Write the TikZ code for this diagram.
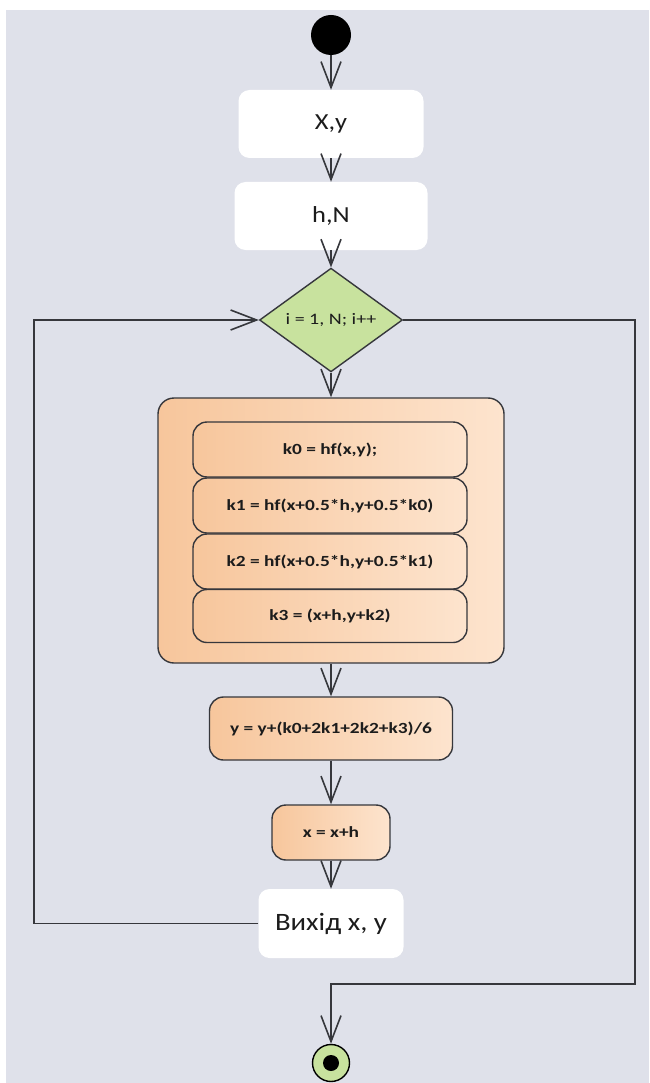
\documentclass[tikz,border=0pt]{standalone}
\usepackage{fontspec}
\setmainfont{Carlito}
\newfontfamily\datafont[FakeStretch=1.15]{Carlito}
\newfontfamily\stepfont[FakeStretch=1.25]{Carlito}
\usetikzlibrary{shapes.geometric,arrows.meta}
\definecolor{canvas}{HTML}{DFE1EA}
\definecolor{edge}{HTML}{36373C}
\definecolor{peachL}{HTML}{F7C69C}
\definecolor{peachR}{HTML}{FDE4CE}
\definecolor{guard}{HTML}{C8E29E}
\definecolor{ink}{HTML}{1C1C1C}
\begin{document}
\begin{tikzpicture}[x=1pt,y=-1pt,
  line/.style={draw=edge, line width=1.6pt},
  flow/.style={line, -{Straight Barb[length=26pt,width=20pt]}},
  databox/.style={fill=white, rounded corners=11pt, inner sep=0pt, text=ink,
    font=\datafont\fontsize{23}{27}\selectfont},
  stepbox/.style={draw=edge, line width=1.4pt, left color=peachL, right color=peachR,
    rounded corners=14pt, inner sep=0pt, text=ink,
    font=\stepfont\bfseries\fontsize{15.5}{18}\selectfont},
  groupbox/.style={draw=edge, line width=1.4pt, left color=peachL, right color=peachR,
    rounded corners=16pt, inner sep=0pt},
  guardbox/.style={diamond, draw=edge, line width=1.4pt, fill=guard, inner sep=0pt,
    text=ink, font=\stepfont\fontsize{16}{19}\selectfont},
  startdot/.style={circle, fill=black, inner sep=0pt, minimum size=40pt},
  enddot/.style={circle, draw=black, line width=1.4pt, fill=guard, inner sep=0pt, minimum size=37pt}
]
% canvas
\useasboundingbox (0,0) rectangle (649,1083);
\fill[white] (0,0) rectangle (649,1083);
\fill[canvas] (6,10) rectangle (649,1083);

% nodes
\node[startdot] (start) at (331,35) {};
\node[databox, minimum width=185pt, minimum height=68pt] (xy) at (331,124) {X,y};
\node[databox, minimum width=193pt, minimum height=68pt] (hn) at (331,216) {h,N};
\node[guardbox, minimum width=143pt, minimum height=81pt] (loop) at (331,320) {i = 1, N; i++};

\node[groupbox, minimum width=346pt, minimum height=265pt] (rk) at (331,530.5) {};
\node[stepbox, minimum width=274pt, minimum height=55pt] (k0) at (330,449.5) {k0 = hf(x,y);};
\node[stepbox, minimum width=274pt, minimum height=55pt] (k1) at (330,505.5) {k1 = hf(x+0.5*h,y+0.5*k0)};
\node[stepbox, minimum width=274pt, minimum height=55pt] (k2) at (330,561.5) {k2 = hf(x+0.5*h,y+0.5*k1)};
\node[stepbox, minimum width=274pt, minimum height=53pt] (k3) at (330,616) {k3 = (x+h,y+k2)};

\node[stepbox, minimum width=243pt, minimum height=63pt] (ynew) at (331,728.5) {y = y+(k0+2k1+2k2+k3)/6};
\node[stepbox, minimum width=118pt, minimum height=55pt] (xnew) at (331,832.5) {x = x+h};
\node[databox, minimum width=145pt, minimum height=69pt, font=\datafont\fontsize{25}{29}\selectfont] (out) at (331,923.5) {Вихід x, y};
\node[enddot] (end) at (331,1063) {};
\fill[black] (end.center) circle (8pt);

% loop corners
\coordinate (lt) at (34,320);
\coordinate (rt) at (635,320);
\coordinate (rb) at (635,984);

% connectors
\draw[flow] (start) -- (xy);
\draw[flow] (xy) -- (hn);
\draw[flow] (hn) -- (loop);
\draw[flow] (loop) -- (rk);
\draw[flow] (rk) -- (ynew);
\draw[flow] (ynew) -- (xnew);
\draw[flow] (xnew) -- (out);
\draw[flow] (out.west) -| (lt) -- (loop.west);
\draw[flow] (loop.east) -- (rt) -- (rb) -| (end.north);
\end{tikzpicture}
\end{document}
